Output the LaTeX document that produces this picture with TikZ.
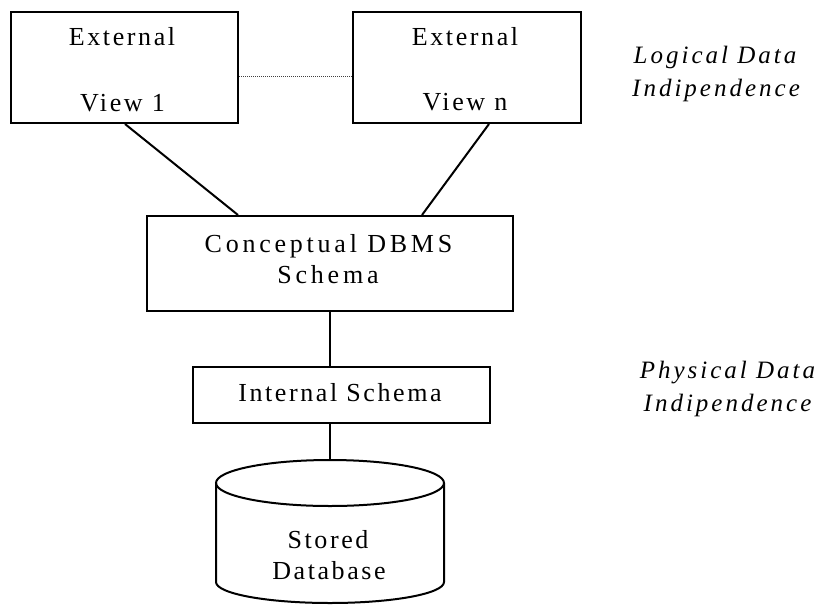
\documentclass[tikz,border=0pt]{standalone}
\usepackage{fontspec}
\setmainfont[LetterSpace=10]{Liberation Serif}
\newfontfamily\widefont[LetterSpace=14.5]{Liberation Serif}
\newfontfamily\notefont[LetterSpace=12]{Liberation Serif Italic}
\begin{document}
\begin{tikzpicture}[x=1pt,y=-1pt,
  box/.style={draw, line width=2pt, inner sep=0pt},
  txt/.style={anchor=base, inner sep=0pt, font=\fontsize{26}{31}\selectfont},
  widetxt/.style={txt, font=\widefont\fontsize{26}{31}\selectfont},
  note/.style={anchor=base, inner sep=0pt, font=\notefont\fontsize{25}{30}\selectfont},
  link/.style={line width=2pt},
  dots/.style={line width=1pt, black!75, dash pattern=on 1pt off 1pt}]
\useasboundingbox (0,0) rectangle (818,605);

% external views
\node[box, minimum width=227pt, minimum height=111pt] (ext1) at (124.5,67.5) {};
\node[box, minimum width=228pt, minimum height=111pt] (extn) at (467,67.5) {};
\node[txt] (ext1a) at (122,45) {External};
\node[txt] (ext1b) at (122.5,111) {View 1};
\node[txt] (extna) at (465,45) {External};
\node[txt] (extnb) at (465,110) {View n};

% conceptual and internal schema
\node[box, minimum width=366pt, minimum height=95pt] (concept) at (330,263.5) {};
\node[widetxt] (concepta) at (328.5,252) {Conceptual DBMS};
\node[widetxt] (conceptb) at (328,283) {Schema};
\node[box, minimum width=297pt, minimum height=56pt] (internal) at (341.5,395) {};
\node[txt] (internala) at (340,401) {Internal Schema};

% stored database cylinder
\coordinate (dbtop) at (330,460);
\draw[link] (330,483) ellipse [x radius=114pt, y radius=23pt];
\draw[link] (216,483) -- (216,582)
  arc[start angle=180, end angle=360, x radius=114pt, y radius=21pt]
  -- (444,483);
\node[txt] (dba) at (328,548) {Stored};
\node[txt] (dbb) at (329,579) {Database};

% connectors
\draw[dots] ([yshift=-8.5pt]ext1.east) -- ([yshift=-8.5pt]extn.west);
\draw[link] ([xshift=0.5pt]ext1.south) -- ([xshift=-92pt]concept.north);
\draw[link] ([xshift=22pt]extn.south) -- ([xshift=92pt]concept.north);
\draw[link] (concept.south) -- (concept.south |- internal.north);
\draw[link] (concept.south |- internal.south) -- (dbtop);

% side notes
\node[note] (logA) at (715,63) {Logical Data};
\node[note] (logB) at (716,96) {Indipendence};
\node[note] (phyA) at (727.5,378) {Physical Data};
\node[note] (phyB) at (727.5,411) {Indipendence};
\end{tikzpicture}
\end{document}
